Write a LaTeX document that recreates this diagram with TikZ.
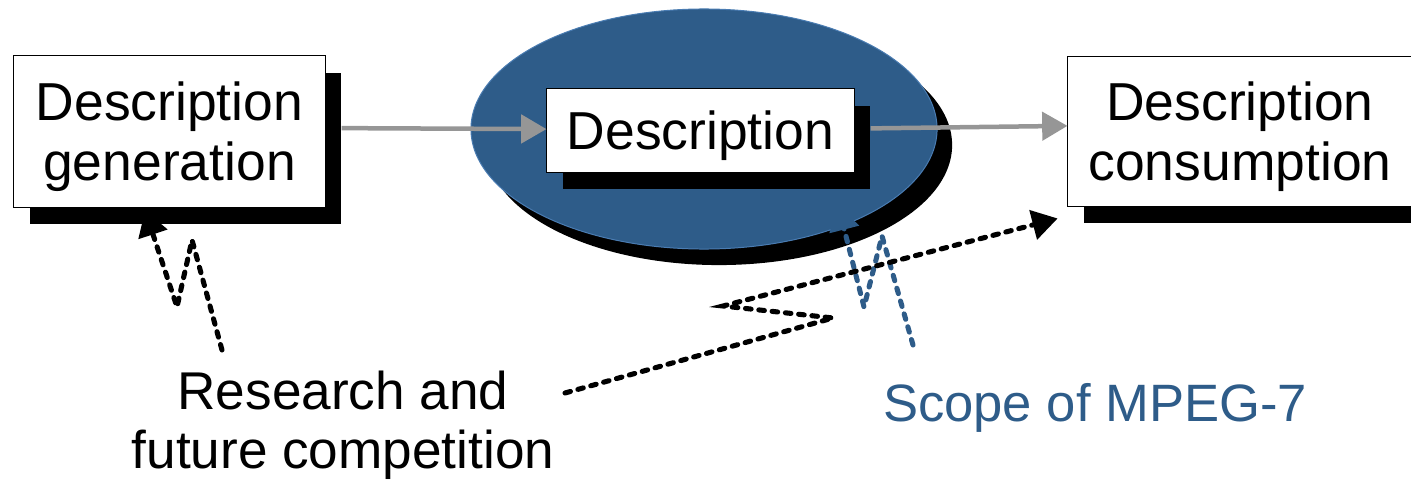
\documentclass[tikz,border=0pt]{standalone}
\usepackage{fontspec}
\setmainfont{Liberation Sans}
\usetikzlibrary{arrows.meta,shapes.geometric,shadows}
\definecolor{mpegblue}{RGB}{46,92,137}
\definecolor{mpegedge}{RGB}{74,124,178}
\definecolor{flowgray}{RGB}{150,150,150}
\newcommand{\bstrut}{\rule{0pt}{35pt}}
\tikzset{
 box/.style={draw=black,line width=0.7pt,fill=white,inner sep=0pt,align=center,
  font=\fontsize{38}{42.7}\selectfont,
  drop shadow={shadow xshift=11.4pt,shadow yshift=-12pt,fill=black,opacity=1}},
 flow/.style={flowgray,line width=3.2pt,-{Triangle[length=18pt,width=20pt]}},
 zigzag/.style={line width=3.6pt,dash pattern=on 4pt off 5.5pt,line cap=round,
  line join=miter,miter limit=25,-{Triangle[length=18pt,width=21pt]}}
}
\begin{document}
\begin{tikzpicture}[x=0.025cm,y=-0.025cm]
 \useasboundingbox (0,0) rectangle (1411,486);
 % boxes and scope
 \node[box,minimum width=7.775cm,minimum height=3.775cm] (gen) at (169.5,131.5) {\bstrut Description\\generation};
 \node[ellipse,fill=mpegblue,draw=mpegedge,line width=0.7pt,inner sep=0pt,minimum width=11.65cm,minimum height=6cm,
  drop shadow={shadow xshift=10.7pt,shadow yshift=-11.4pt,fill=black,opacity=1}] (scope) at (704,129) {};
 \node[box,minimum width=7.675cm,minimum height=2.075cm] (desc) at (700.5,130.5) {\bstrut Description};
 \node[box,minimum width=8.6cm,minimum height=3.725cm] (cons) at (1240,131.5) {\bstrut Description\\consumption};
 % labels
 \node[font=\fontsize{37.8}{42}\selectfont,align=center] (res) at (343,425) {Research and\\future competition};
 \node[font=\fontsize{37.4}{42}\selectfont,text=mpegblue,anchor=base] (mpg) at (1095,421) {Scope of MPEG-7};
 % flow
 \draw[flow] ([xshift=11.4pt,yshift=2.4pt]gen.east) -- ([yshift=1pt]desc.west);
 \draw[flow] ([xshift=11.4pt,yshift=1.5pt]desc.east) -- ([yshift=4pt]cons.west);
 % lightning
 \draw[zigzag,mpegblue] (913,345) -- (882,236) -- (864,307) -- ([xshift=95.3pt,yshift=-54pt]scope.center);
 \draw[zigzag] (222,350) -- (192,240) -- (177,307) -- ([xshift=-17.4pt,yshift=-2pt]gen.south);
 \draw[zigzag] (565,393) -- (833,318) -- (723,306) -- ([xshift=-7pt,yshift=-8.5pt]cons.south west);
\end{tikzpicture}
\end{document}
